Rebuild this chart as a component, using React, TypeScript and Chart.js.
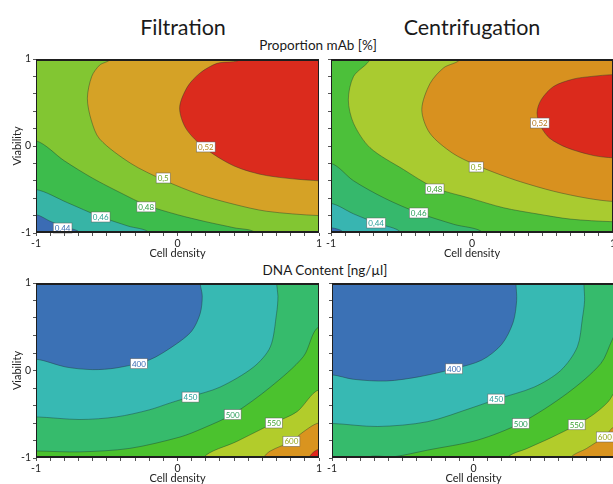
import React, { useEffect, useRef } from 'react';
import { Chart, registerables } from 'chart.js';

Chart.register(...registerables);

type Pt = [number, number];
type Corner = 'tl' | 'tr' | 'bl' | 'br';

const FONT = 'Lato, "Open Sans", sans-serif';

// ---------- shared text ----------
const columnTitles = ['Filtration', 'Centrifugation'];
const rowTitles = ['Proportion mAb [%]', 'DNA Content [ng/µl]'];
const xTitle = 'Cell density';
const yTitle = 'Viability';
const axisTickLabels = [-1, 0, 1];

// ---------- Proportion mAb – Filtration (contour lines, x = cell density, y = viability) ----------
const mabFiltLevels = ['0,44', '0,46', '0,48', '0,5', '0,52'];
const mabFilt044: Pt[] = [[-1, -0.79], [-0.9, -0.865], [-0.8, -0.93], [-0.69, -1]];
const mabFilt046: Pt[] = [[-1, -0.5], [-0.78, -0.65], [-0.55, -0.81], [-0.35, -0.92], [-0.2, -1]];
const mabFilt048: Pt[] = [[-1, 0.06], [-0.8, -0.17], [-0.6, -0.37], [-0.4, -0.54], [-0.22, -0.68], [0, -0.79], [0.2, -0.87], [0.4, -0.94], [0.55, -1]];
const mabFilt050: Pt[] = [[-0.476, 1], [-0.55, 0.93], [-0.606, 0.8], [-0.637, 0.55], [-0.61, 0.3], [-0.55, 0.08], [-0.33, -0.2], [-0.1, -0.39], [0.16, -0.56], [0.4, -0.67], [0.63, -0.75], [1, -0.8]];
const mabFilt052: Pt[] = [[0.445, 1], [0.28, 0.95], [0.16, 0.84], [0.07, 0.68], [0.015, 0.44], [0.06, 0.2], [0.19, -0.02], [0.4, -0.23], [0.63, -0.34], [1, -0.4]];
const mabFiltLabelPos: Pt[] = [[-0.812, -0.943], [-0.543, -0.816], [-0.221, -0.7], [-0.101, -0.368], [0.2, -0.011]];

// ---------- Proportion mAb – Centrifugation ----------
const mabCentLevels = ['0,44', '0,46', '0,48', '0,5', '0,52'];
const mabCent042: Pt[] = [[-1, -0.94], [-0.91, -1]];
const mabCent044: Pt[] = [[-1, -0.66], [-0.84, -0.78], [-0.68, -0.885], [-0.5, -1]];
const mabCent046: Pt[] = [[-1, -0.2], [-0.84, -0.4], [-0.62, -0.6], [-0.378, -0.77], [-0.13, -0.9], [0.08, -1]];
const mabCent048: Pt[] = [[-0.723, 1], [-0.84, 0.8], [-0.877, 0.53], [-0.84, 0.26], [-0.723, -0.02], [-0.486, -0.27], [-0.265, -0.48], [-0.013, -0.6], [0.224, -0.71], [0.46, -0.78], [0.697, -0.84], [1, -0.87]];
const mabCent050: Pt[] = [[-0.084, 1], [-0.2, 0.9], [-0.297, 0.72], [-0.356, 0.42], [-0.3, 0.15], [-0.14, -0.08], [0.03, -0.22], [0.2, -0.33], [0.342, -0.41], [0.579, -0.52], [0.816, -0.6], [1, -0.637]];
const mabCent052: Pt[] = [[1, 0.82], [0.85, 0.8], [0.72, 0.77], [0.579, 0.685], [0.49, 0.53], [0.461, 0.38], [0.49, 0.22], [0.55, 0.09], [0.674, -0.02], [0.863, -0.11], [1, -0.135]];
const mabCentLabelPos: Pt[] = [[-0.68, -0.885], [-0.378, -0.77], [-0.265, -0.494], [0.03, -0.241], [0.481, 0.264]];

// ---------- DNA content – Filtration ----------
const dnaFiltLevels = ['400', '450', '500', '550', '600'];
const dnaFilt400: Pt[] = [[0.16, 1], [0.175, 0.85], [0.16, 0.65], [0.1, 0.45], [-0.02, 0.29], [-0.2, 0.12], [-0.43, 0.03], [-0.6, 0.01], [-0.79, 0.04], [-1, 0.13]];
const dnaFilt450: Pt[] = [[0.7, 1], [0.71, 0.85], [0.7, 0.65], [0.656, 0.27], [0.538, 0.04], [0.3, -0.19], [0.09, -0.3], [-0.05, -0.37], [-0.2, -0.45], [-0.43, -0.53], [-0.69, -0.56], [-1, -0.53]];
const dnaFilt500: Pt[] = [[1, 0.5], [0.89, 0.16], [0.656, -0.19], [0.39, -0.5], [0.18, -0.66], [0.018, -0.76], [-0.337, -0.89], [-0.69, -0.93], [-1, -0.92]];
const dnaFilt550: Pt[] = [[1, -0.22], [0.845, -0.47], [0.68, -0.6], [0.42, -0.81], [0.18, -1]];
const dnaFilt600: Pt[] = [[1, -0.6], [0.89, -0.7], [0.805, -0.81], [0.656, -0.92], [0.61, -1]];
const dnaFilt650: Pt[] = [[1, -0.9], [0.93, -1]];
const dnaFiltLabelPos: Pt[] = [[-0.273, 0.078], [0.092, -0.304], [0.39, -0.504], [0.681, -0.6], [0.805, -0.81]];

// ---------- DNA content – Centrifugation ----------
const dnaCentLevels = ['400', '450', '500', '550', '600'];
const dnaCent400: Pt[] = [[0.3, 1], [0.305, 0.8], [0.28, 0.55], [0.2, 0.3], [0.06, 0.12], [-0.138, 0.02], [-0.38, -0.07], [-0.616, -0.12], [-0.85, -0.1], [-1, -0.05]];
const dnaCent450: Pt[] = [[0.78, 1], [0.785, 0.8], [0.77, 0.6], [0.734, 0.27], [0.616, 0], [0.428, -0.19], [0.16, -0.33], [0, -0.42], [-0.325, -0.585], [-0.677, -0.64], [-1, -0.605]];
const dnaCent500: Pt[] = [[1.05, 0.55], [0.98, 0.35], [0.9, 0.08], [0.663, -0.26], [0.334, -0.6], [0.03, -0.795], [-0.325, -0.91], [-0.56, -0.985], [-0.75, -1]];
const dnaCent550: Pt[] = [[1.05, -0.15], [0.95, -0.36], [0.85, -0.5], [0.73, -0.62], [0.545, -0.77], [0.38, -0.89], [0.24, -1]];
const dnaCent600: Pt[] = [[1, -0.64], [0.93, -0.75], [0.8, -0.89], [0.687, -1]];
const dnaCentLabelPos: Pt[] = [[-0.138, 0.019], [0.161, -0.327], [0.334, -0.606], [0.729, -0.62], [0.928, -0.76]];

// ---------- styling ----------
const LINE_COLOR = 'rgba(30,55,45,0.6)';
const mabFiltColors = ['#3b6cb4', '#37b4a6', '#3dbc4c', '#82c632', '#d5a226', '#db2b1d'];
const mabCentColors = ['#3b6cb4', '#38b5b1', '#36b86c', '#4cc03a', '#a9cb30', '#d8911f', '#db2a1c'];
const dnaColors = ['#3b71b5', '#37b9b3', '#36bb6c', '#4bc22e', '#b2cc2b', '#d9941f', '#e0241b'];
const mabFiltLabelColors = ['#3b6cb4', '#2a9f92', '#2f9f40', '#6aa526', '#b5871c'];
const mabCentLabelColors = ['#2a9f99', '#2e9f5c', '#3a9f2e', '#8aa826', '#b5761a'];
const dnaLabelColors = ['#3b6cb4', '#2a9f99', '#2e9f5c', '#3a9f2e', '#97a820'];

interface PanelDef {
  box: [number, number, number, number];
  showY: boolean;
  colors: string[];
  contours: Pt[][];
  corners: Corner[][];
  labels: string[];
  labelPos: Pt[];
  labelColors: string[];
}

const A: Corner[] = ['br', 'tr', 'tl'];
const TR: Corner[] = ['tr'];
const OUT_LB: Corner[] = ['bl', 'br', 'tr'];

const panels: PanelDef[] = [
  {
    box: [36, 59, 283, 174], showY: true, colors: mabFiltColors,
    contours: [mabFilt044, mabFilt046, mabFilt048, mabFilt050, mabFilt052],
    corners: [A, A, A, TR, TR],
    labels: mabFiltLevels, labelPos: mabFiltLabelPos, labelColors: mabFiltLabelColors,
  },
  {
    box: [331, 59, 282, 174], showY: false, colors: mabCentColors,
    contours: [mabCent042, mabCent044, mabCent046, mabCent048, mabCent050, mabCent052],
    corners: [A, A, A, TR, TR, []],
    labels: mabCentLevels, labelPos: mabCentLabelPos, labelColors: mabCentLabelColors,
  },
  {
    box: [36, 283, 283, 175], showY: true, colors: dnaColors,
    contours: [dnaFilt400, dnaFilt450, dnaFilt500, dnaFilt550, dnaFilt600, dnaFilt650],
    corners: [OUT_LB, OUT_LB, ['bl', 'br'], ['br'], ['br'], ['br']],
    labels: dnaFiltLevels, labelPos: dnaFiltLabelPos, labelColors: dnaLabelColors,
  },
  {
    box: [332, 283, 283, 175], showY: false, colors: dnaColors,
    contours: [dnaCent400, dnaCent450, dnaCent500, dnaCent550, dnaCent600],
    corners: [OUT_LB, OUT_LB, ['br'], ['br'], ['br']],
    labels: dnaCentLevels, labelPos: dnaCentLabelPos, labelColors: dnaLabelColors,
  },
];

const EXT = 1.3;
const cornerPt: Record<Corner, Pt> = { tl: [-EXT, EXT], tr: [EXT, EXT], bl: [-EXT, -EXT], br: [EXT, -EXT] };
function ext(p: Pt): Pt {
  const [x, y] = p;
  if (Math.abs(x) >= 0.999) return [Math.sign(x) * EXT, y];
  if (Math.abs(y) >= 0.999) return [x, Math.sign(y) * EXT];
  return p;
}
function regionPath(pts: Pt[], corners: Corner[]) {
  const path: Pt[] = [ext(pts[0]), ...pts, ext(pts[pts.length - 1]), ...corners.map((c) => cornerPt[c])];
  return path.map(([x, y]) => ({ x, y }));
}

const PAD_L = 36, PAD_T = 10, PAD_R = 6, PAD_B = 30;
const Y_W = 25, X_H = 27;

function tickText(v: any, show: boolean) {
  const n = Number(v);
  if (!show) return '';
  return axisTickLabels.some((t) => Math.abs(t - n) < 1e-6) ? String(Math.round(n)) : '';
}

function Panel({ def }: { def: PanelDef }) {
  const ref = useRef<HTMLCanvasElement>(null);
  const [L, T, W, H] = def.box;
  const cw = W + PAD_L + PAD_R;
  const ch = H + PAD_T + PAD_B;
  useEffect(() => {
    const n = def.contours.length;
    const datasets = def.contours.map((pts, i) => ({
      data: regionPath(pts, def.corners[i]),
      fill: 'shape',
      backgroundColor: def.colors[i + 1],
      borderColor: LINE_COLOR,
      borderWidth: 0.7,
      pointRadius: 0,
      pointHoverRadius: 0,
      tension: 0.3,
      clip: 0,
      order: n - i,
    }));
    const bgPlugin = {
      id: 'bg' + L + T,
      beforeDatasetsDraw(chart: any) {
        const { ctx, chartArea: a } = chart;
        ctx.save();
        ctx.fillStyle = def.colors[0];
        ctx.fillRect(a.left, a.top, a.right - a.left, a.bottom - a.top);
        ctx.restore();
      },
    };
    const overlayPlugin = {
      id: 'ov' + L + T,
      afterDatasetsDraw(chart: any) {
        const { ctx, chartArea: a, scales } = chart;
        ctx.save();
        // labels
        ctx.font = `8px ${FONT}`;
        ctx.textAlign = 'center';
        ctx.textBaseline = 'middle';
        def.labels.forEach((txt, i) => {
          const [vx, vy] = def.labelPos[i];
          const px = scales.x.getPixelForValue(vx);
          const py = scales.y.getPixelForValue(vy);
          const w = ctx.measureText(txt).width + 3;
          const h = 10;
          ctx.fillStyle = '#ffffff';
          ctx.fillRect(px - w / 2, py - h / 2, w, h);
          ctx.strokeStyle = 'rgba(90,90,90,0.8)';
          ctx.lineWidth = 0.6;
          ctx.strokeRect(px - w / 2, py - h / 2, w, h);
          ctx.fillStyle = def.labelColors[i];
          ctx.fillText(txt, px, py + 0.5);
        });
        // frame
        ctx.strokeStyle = '#1e1e1e';
        ctx.lineWidth = 1;
        ctx.beginPath();
        ctx.moveTo(a.left + 0.5, a.top);
        ctx.lineTo(a.left + 0.5, a.bottom);
        ctx.moveTo(a.right - 0.5, a.top);
        ctx.lineTo(a.right - 0.5, a.bottom);
        ctx.stroke();
        ctx.lineWidth = 2;
        ctx.beginPath();
        ctx.moveTo(a.left, a.top + 1);
        ctx.lineTo(a.right, a.top + 1);
        ctx.moveTo(a.left, a.bottom - 1);
        ctx.lineTo(a.right, a.bottom - 1);
        ctx.stroke();
        ctx.restore();
      },
    };
    const chart = new Chart(ref.current as HTMLCanvasElement, {
      type: 'line',
      data: { datasets: datasets as any },
      options: {
        responsive: false,
        maintainAspectRatio: false,
        devicePixelRatio: 1,
        animation: false,
        events: [],
        layout: { padding: { left: PAD_L - Y_W, top: PAD_T, right: PAD_R, bottom: PAD_B - X_H } },
        elements: { line: { capBezierPoints: false } },
        plugins: { legend: { display: false }, tooltip: { enabled: false }, title: { display: false } },
        scales: {
          x: {
            type: 'linear', min: -1, max: 1, position: 'bottom',
            afterFit: (s: any) => { s.height = X_H; s.paddingLeft = 0; s.paddingRight = 0; },
            ticks: {
              stepSize: 0.1, autoSkip: false, maxRotation: 0, minRotation: 0, padding: 1, color: '#222',
              font: { family: FONT, size: 10.5 },
              callback: (v: any) => tickText(v, true),
            },
            grid: { drawOnChartArea: false, drawTicks: true, tickLength: 3, color: '#555' },
            border: { display: false },
            title: { display: true, text: xTitle, padding: 0, color: '#222', font: { family: FONT, size: 11 } },
          },
          y: {
            type: 'linear', min: -1, max: 1, position: 'left',
            afterFit: (s: any) => { s.width = Y_W; s.paddingTop = 0; s.paddingBottom = 0; },
            ticks: {
              stepSize: 0.2, autoSkip: false, padding: 2, color: '#222',
              font: { family: FONT, size: 10.5 },
              callback: (v: any) => tickText(v, def.showY),
            },
            grid: { drawOnChartArea: false, drawTicks: true, tickLength: 3, color: '#555' },
            border: { display: false },
            title: { display: def.showY, text: yTitle, padding: 0, color: '#222', font: { family: FONT, size: 11 } },
          },
        },
      } as any,
      plugins: [bgPlugin, overlayPlugin],
    });
    return () => chart.destroy();
  }, []);
  return (
    <canvas
      ref={ref}
      width={cw}
      height={ch}
      style={{ position: 'absolute', left: L - PAD_L, top: T - PAD_T, width: cw, height: ch }}
    />
  );
}

const textStyle = (left: number, width: number, top: number, size: number): React.CSSProperties => ({
  position: 'absolute', left, width, top, fontSize: size, lineHeight: `${size}px`, textAlign: 'center',
  color: '#1a1a1a', fontFamily: FONT, whiteSpace: 'nowrap',
});

if (typeof document !== 'undefined') document.body.style.margin = '0';

export default function App() {
  return (
    <div style={{ position: 'relative', width: 613, height: 484, overflow: 'hidden', background: '#fff' }}>
      <div style={textStyle(83, 200, 17, 21.5)}>{columnTitles[0]}</div>
      <div style={textStyle(372, 200, 17, 21.5)}>{columnTitles[1]}</div>
      <div style={textStyle(218, 200, 39, 13.5)}>{rowTitles[0]}</div>
      <div style={textStyle(225, 200, 264, 13.5)}>{rowTitles[1]}</div>
      {panels.map((p, i) => (
        <Panel key={i} def={p} />
      ))}
    </div>
  );
}
